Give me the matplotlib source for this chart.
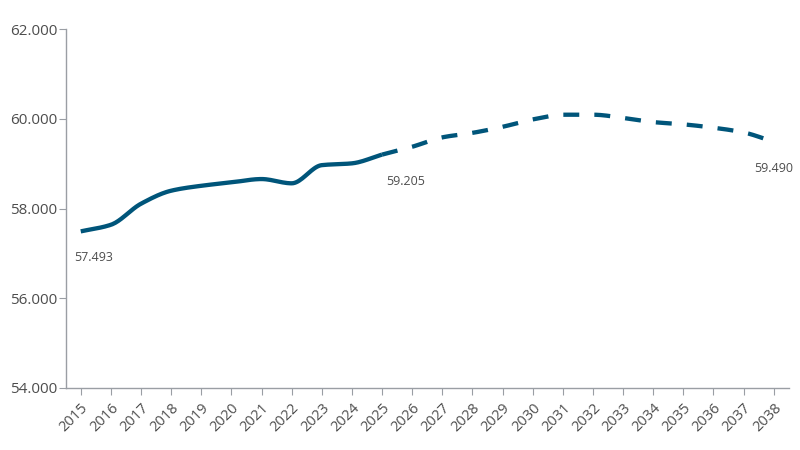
import numpy as np
import matplotlib.pyplot as plt
from matplotlib.ticker import FuncFormatter

plt.rcParams['font.family'] = ['Open Sans', 'DejaVu Sans']

# observed values (solid) and forecast (dashed)
years_hist = [2015, 2016, 2017, 2018, 2019, 2020, 2021, 2022, 2023, 2024, 2025]
vals_hist = [57493, 57640, 58110, 58400, 58510, 58585, 58660, 58565, 58970, 59010, 59205]
years_fc = [2025, 2026, 2027, 2028, 2029, 2030, 2031, 2032, 2033, 2034, 2035, 2036, 2037, 2038]
vals_fc = [59205, 59380, 59590, 59690, 59825, 59990, 60095, 60095, 60025, 59930, 59880, 59805, 59700, 59490]
label_years = [2015, 2025, 2038]
label_vals = [57493, 59205, 59490]
label_dx = [9, 17, 0]

line_color = '#00557a'
text_color = '#4d4d4d'
axis_color = '#9a9ea4'


def monotone(xs, ys, n=20):
    # monotone cubic (Fritsch-Carlson), like d3.curveMonotoneX
    x = np.asarray(xs, float)
    y = np.asarray(ys, float)
    h = np.diff(x)
    d = np.diff(y) / h
    m = np.zeros_like(y)
    m[0], m[-1] = d[0], d[-1]
    for i in range(1, len(y) - 1):
        if d[i - 1] * d[i] > 0:
            m[i] = 3 * (h[i - 1] + h[i]) / ((2 * h[i] + h[i - 1]) / d[i - 1] + (h[i] + 2 * h[i - 1]) / d[i])
    px, py = [], []
    for i in range(len(x) - 1):
        t = np.linspace(0, 1, n, endpoint=(i == len(x) - 2))
        h00 = 2 * t**3 - 3 * t**2 + 1
        h10 = t**3 - 2 * t**2 + t
        h01 = -2 * t**3 + 3 * t**2
        h11 = t**3 - t**2
        px.append(x[i] + t * h[i])
        py.append(h00 * y[i] + h10 * h[i] * m[i] + h01 * y[i + 1] + h11 * h[i] * m[i + 1])
    return np.concatenate(px), np.concatenate(py)


fig = plt.figure(figsize=(8, 4.5), dpi=100)
ax = fig.add_axes([0.0821, 0.1378, 0.9039, 0.7971])

hx, hy = monotone(years_hist, vals_hist)
ax.plot(hx, hy, color=line_color, lw=3.1, solid_capstyle='butt')
fx, fy = monotone(years_fc, vals_fc)
ax.plot(fx, fy, color=line_color, lw=3.1, linestyle=(0, (3.7, 3.5)), dash_capstyle='butt')

for yr, v, dx in zip(label_years, label_vals, label_dx):
    ax.annotate(f'{v:,}'.replace(',', '.'), (yr, v), xytext=(dx, -19),
                textcoords='offset points', ha='center', va='center',
                fontsize=9, color=text_color)

ax.set_xlim(2014.5, 2038.5)
ax.set_ylim(54000, 62000)
ax.set_yticks(range(54000, 62001, 2000))
ax.set_xticks(range(2015, 2039))
ax.yaxis.set_major_formatter(FuncFormatter(lambda v, p: f'{int(v):,}'.replace(',', '.')))

for s in ['top', 'right']:
    ax.spines[s].set_visible(False)
for s in ['left', 'bottom']:
    ax.spines[s].set_color(axis_color)
    ax.spines[s].set_linewidth(1)

ax.tick_params(axis='y', colors=axis_color, labelcolor=text_color, labelsize=11, length=5, pad=1)
ax.tick_params(axis='x', colors=axis_color, labelcolor=text_color, labelsize=10.5, length=5, pad=4)
for lab in ax.get_xticklabels():
    lab.set_rotation(45)
    lab.set_ha('right')
    lab.set_rotation_mode('anchor')

fig.savefig('out.png', dpi=100)
